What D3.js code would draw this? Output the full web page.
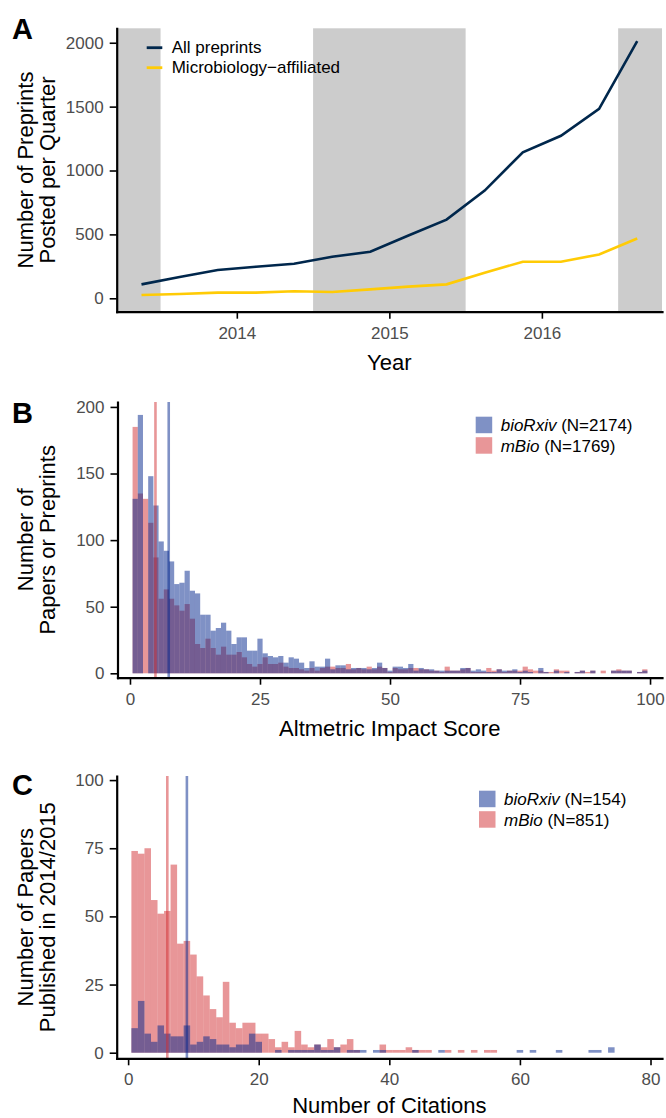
<!DOCTYPE html>
<html>
<head>
<meta charset="utf-8">
<script src="https://cdn.jsdelivr.net/npm/d3@7"></script>
<style>
  body { margin: 0; background: #fff; }
  svg { display: block; font-family: 'Liberation Sans', Arial, Helvetica, sans-serif; }
  .axis-name { font-size: 22px; fill: #000; }
  .legend-text { font-size: 17px; fill: #000; }
  .panel-letter { font-size: 29px; font-weight: bold; fill: #000; }
</style>
</head>
<body>
<div id="chart"></div>
<script>
// Panel A: preprints per quarter
const quarters = [2013.375, 2013.625, 2013.875, 2014.125, 2014.375, 2014.625, 2014.875,
  2015.125, 2015.375, 2015.625, 2015.875, 2016.125, 2016.375, 2016.625];
const allPreprints = [109, 166, 221, 247, 270, 325, 364, 491, 616, 843, 1142, 1272, 1482, 2013];
const microPreprints = [26, 34, 44, 44, 55, 49, 70, 91, 109, 200, 286, 286, 343, 468];
const shadedYears = [2013, 2015, 2017];
const yearTicks = [2014, 2015, 2016];
const countTicksA = [0, 500, 1000, 1500, 2000];

// Panel B: altmetric score histogram, one bin per score (1..100)
const altBiorxiv = [131, 194, 0, 148, 126, 99, 92, 84, 67, 68,
  77, 62, 60, 44, 44, 32, 34, 38, 32, 22,
  27, 27, 17, 17, 26, 15, 13, 12, 13, 8,
  12, 11, 8, 4, 9, 5, 5, 11, 3, 6,
  6, 3, 4, 4, 4, 3, 4, 8, 4, 2,
  5, 5, 4, 7, 2, 4, 3, 3, 2, 2,
  2, 2, 2, 4, 4, 2, 3, 2, 1, 1,
  3, 2, 2, 3, 1, 2, 1, 0, 4, 1,
  0, 2, 0, 1, 0, 1, 2, 0, 2, 0,
  0, 0, 2, 2, 2, 2, 0, 1, 2, 0];
const altMbio = [185, 135, 131, 113, 87, 56, 63, 56, 51, 47,
  52, 41, 22, 19, 26, 19, 14, 20, 14, 14,
  16, 12, 7, 5, 7, 12, 7, 7, 8, 5,
  4, 4, 3, 2, 4, 2, 4, 5, 5, 4,
  4, 7, 3, 4, 3, 5, 3, 5, 4, 1,
  4, 3, 3, 4, 4, 3, 3, 2, 2, 1,
  5, 2, 2, 3, 4, 1, 1, 1, 4, 2,
  3, 1, 2, 2, 2, 5, 3, 2, 2, 1,
  1, 3, 2, 2, 0, 1, 2, 1, 2, 0,
  2, 0, 2, 3, 2, 2, 0, 1, 3, 0];
const altMedians = [7.45, 4.9]; // bioRxiv, mBio
const altTicks = [0, 25, 50, 75, 100];
const altCountTicks = [0, 50, 100, 150, 200];

// Panel C: citations histogram, one bin per count (1..74)
const citeBiorxiv = [9, 19, 7, 4, 10, 7, 6, 6, 10, 3,
  4, 6, 5, 3, 3, 2, 3, 3, 7, 4,
  0, 0, 1, 0, 1, 1, 1, 1, 3, 1,
  1, 2, 0, 1, 1, 1, 0, 1, 1, 0,
  0, 0, 0, 1, 0, 0, 0, 1, 0, 0,
  0, 0, 0, 0, 0, 0, 0, 0, 0, 1,
  0, 1, 0, 0, 0, 1, 0, 0, 0, 0,
  1, 1, 0, 2];
const citeMbio = [74, 73, 75, 56, 51, 52, 69, 40, 41, 36,
  28, 21, 16, 13, 26, 11, 9, 11, 11, 7,
  7, 5, 2, 4, 2, 8, 3, 2, 3, 2,
  5, 2, 3, 5, 1, 0, 0, 0, 3, 1,
  1, 1, 2, 1, 1, 1, 0, 0, 1, 0,
  1, 0, 1, 0, 1, 1];
const citeMedians = [9, 6]; // bioRxiv, mBio
const citeTicks = [0, 20, 40, 60, 80];
const citeCountTicks = [0, 25, 50, 75, 100];

const navy = '#00274C';
const maize = '#FFCB05';
const blueFill = '#00238b';
const redFill = '#d12d31';

const svg = d3.select('#chart')
  .append('svg')
  .attr('width', 666)
  .attr('height', 1118);

function styleAxis(g) {
  g.attr('font-size', null).attr('font-family', null);
  g.select('.domain').attr('stroke', '#000').attr('stroke-width', 2.2).attr('stroke-linecap', 'square');
  g.selectAll('.tick line').attr('stroke', '#000').attr('stroke-width', 1.6);
  g.selectAll('.tick text').attr('fill', '#4d4d4d').style('font-size', '17px');
}

function yTitle(lines, cy) {
  lines.forEach((t, i) => {
    svg.append('text')
      .attr('class', 'axis-name')
      .attr('text-anchor', 'middle')
      .attr('transform', `translate(${32.5 + i * 22.5},${cy})rotate(-90)`)
      .text(t);
  });
}

function panelLetter(letter, y) {
  svg.append('text').attr('class', 'panel-letter').attr('x', 12).attr('y', y).text(letter);
}

// ---------- Panel A ----------
(function drawA() {
  const box = { l: 116.7, r: 662, t: 28.3, b: 311.7 };
  const x = d3.scaleLinear().domain([2013.2125, 2016.7875]).range([box.l, box.r]);
  const y = d3.scaleLinear().domain([-105, 2113]).range([box.b, box.t]);

  // shaded alternate years
  svg.append('g')
    .selectAll('rect')
    .data(shadedYears)
    .join('rect')
    .attr('x', (d) => Math.max(box.l, x(d - 0.5)))
    .attr('width', (d) => Math.min(box.r, x(d + 0.5)) - Math.max(box.l, x(d - 0.5)))
    .attr('y', box.t)
    .attr('height', box.b - box.t)
    .attr('fill', '#cccccc');

  const line = d3.line().x((d) => x(d[0])).y((d) => y(d[1]));
  const series = [
    { vals: allPreprints, color: navy },
    { vals: microPreprints, color: maize },
  ];
  series.forEach((s) => {
    svg.append('path')
      .datum(quarters.map((q, i) => [q, s.vals[i]]))
      .attr('d', line)
      .attr('fill', 'none')
      .attr('stroke', s.color)
      .attr('stroke-width', 2.6);
  });

  svg.append('g')
    .attr('transform', `translate(0,${box.b})`)
    .call(d3.axisBottom(x).tickValues(yearTicks).tickFormat(d3.format('d')).tickSize(7).tickSizeOuter(0).tickPadding(8))
    .call(styleAxis);
  svg.append('g')
    .attr('transform', `translate(${box.l},0)`)
    .call(d3.axisLeft(y).tickValues(countTicksA).tickFormat(d3.format('d')).tickSize(7).tickSizeOuter(0).tickPadding(6))
    .call(styleAxis);

  // legend
  const legend = [['All preprints', navy], ['Microbiology\u2212affiliated', maize]];
  legend.forEach((d, i) => {
    const ly = 47.7 + i * 20;
    svg.append('line').attr('x1', 146.7).attr('x2', 162.3).attr('y1', ly).attr('y2', ly)
      .attr('stroke', d[1]).attr('stroke-width', 2.8);
    svg.append('text').attr('class', 'legend-text').attr('x', 171.7).attr('y', ly)
      .attr('dominant-baseline', 'central').text(d[0]);
  });

  svg.append('text').attr('class', 'axis-name').attr('text-anchor', 'middle')
    .attr('x', (box.l + box.r) / 2).attr('y', 370).text('Year');
  yTitle(['Number of Preprints', 'Posted per Quarter'], (box.t + box.b) / 2);
  panelLetter('A', 38.5);
}());

// ---------- Panels B and C ----------
function drawHist(cfg) {
  const { box } = cfg;
  const x = d3.scaleLinear().domain(cfg.xDomain).range([box.l, box.r]);
  const y = d3.scaleLinear().domain(cfg.yDomain).range([box.b, box.t]);

  const groups = [
    { vals: cfg.mbio, color: redFill },
    { vals: cfg.biorxiv, color: blueFill },
  ];
  groups.forEach((grp) => {
    svg.append('g')
      .selectAll('rect')
      .data(grp.vals.map((v, i) => ({ bin: i + 1, v })).filter((d) => d.v > 0))
      .join('rect')
      .attr('x', (d) => x(d.bin - 0.5))
      .attr('width', (d) => x(d.bin + 0.5) - x(d.bin - 0.5))
      .attr('y', (d) => y(d.v))
      .attr('height', (d) => y(0) - y(d.v))
      .attr('fill', grp.color)
      .attr('fill-opacity', 0.5);
  });

  // median lines
  [[cfg.medians[1], redFill], [cfg.medians[0], blueFill]].forEach((m) => {
    svg.append('line')
      .attr('x1', x(m[0])).attr('x2', x(m[0]))
      .attr('y1', box.t).attr('y2', box.b)
      .attr('stroke', m[1]).attr('stroke-opacity', 0.5).attr('stroke-width', 2.6);
  });

  svg.append('g')
    .attr('transform', `translate(0,${box.b})`)
    .call(d3.axisBottom(x).tickValues(cfg.xTicks).tickSize(7).tickSizeOuter(0).tickPadding(8))
    .call(styleAxis);
  svg.append('g')
    .attr('transform', `translate(${box.l},0)`)
    .call(d3.axisLeft(y).tickValues(cfg.yTicks).tickSize(7).tickSizeOuter(0).tickPadding(6))
    .call(styleAxis);

  // legend
  cfg.legend.forEach((d, i) => {
    const top = cfg.legendY + i * 20.5;
    svg.append('rect').attr('x', cfg.legendX).attr('y', top).attr('width', 16.5).attr('height', 16.5)
      .attr('fill', d.color).attr('fill-opacity', 0.5);
    const t = svg.append('text').attr('class', 'legend-text')
      .attr('x', cfg.legendX + 25).attr('y', top + 8.5).attr('dominant-baseline', 'central');
    t.append('tspan').style('font-style', 'italic').text(d.name);
    t.append('tspan').text(` (N=${d.n})`);
  });

  svg.append('text').attr('class', 'axis-name').attr('text-anchor', 'middle')
    .attr('x', (box.l + box.r) / 2).attr('y', cfg.xTitleY).text(cfg.xTitle);
  yTitle(cfg.yTitle, (box.t + box.b) / 2);
  panelLetter(cfg.letter, cfg.letterY);
}

drawHist({
  box: { l: 117.5, r: 662, t: 402, b: 677.7 },
  xDomain: [-2.4, 102.3],
  yDomain: [-3.3, 203.7],
  biorxiv: altBiorxiv,
  mbio: altMbio,
  medians: altMedians,
  xTicks: altTicks,
  yTicks: altCountTicks,
  legend: [{ name: 'bioRxiv', n: 2174, color: blueFill }, { name: 'mBio', n: 1769, color: redFill }],
  legendX: 475.7,
  legendY: 416.7,
  xTitle: 'Altmetric Impact Score',
  xTitleY: 736,
  yTitle: ['Number of', 'Papers or Preprints'],
  letter: 'B',
  letterY: 423,
});

drawHist({
  box: { l: 116.7, r: 662, t: 776, b: 1058.3 },
  xDomain: [-1.75, 81.76],
  yDomain: [-2.05, 101.5],
  biorxiv: citeBiorxiv,
  mbio: citeMbio,
  medians: citeMedians,
  xTicks: citeTicks,
  yTicks: citeCountTicks,
  legend: [{ name: 'bioRxiv', n: 154, color: blueFill }, { name: 'mBio', n: 851, color: redFill }],
  legendX: 479,
  legendY: 790.7,
  xTitle: 'Number of Citations',
  xTitleY: 1112.5,
  yTitle: ['Number of Papers', 'Published in 2014/2015'],
  letter: 'C',
  letterY: 795,
});
</script>
</body>
</html>
